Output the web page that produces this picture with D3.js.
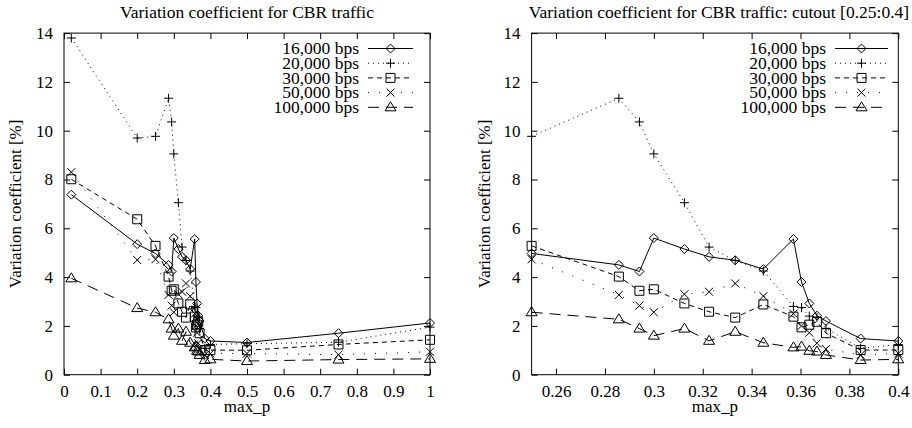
<!DOCTYPE html>
<html>
<head>
<meta charset="utf-8">
<script src="https://cdn.jsdelivr.net/npm/d3@7"></script>
<style>
body { margin: 0; background: #fff; }
svg, svg text { font-family: "Liberation Serif", "Times New Roman", Times, "DejaVu Serif", serif; }
</style>
</head>
<body>
<script>
// max_p values (x) shared by all series
var maxP = [0.02, 0.2, 0.25, 0.2857, 0.2941, 0.3, 0.3125, 0.3226, 0.3333, 0.3448,
            0.3571, 0.3604, 0.3636, 0.3667, 0.3704, 0.3846, 0.4, 0.5, 0.75, 1];

// variation coefficient [%] per bit rate
var cv16000  = [7.38, 5.35, 4.97, 4.50, 4.23, 5.60, 5.15, 4.83, 4.69, 4.33,
                5.56, 3.80, 2.92, 2.42, 2.20, 1.48, 1.38, 1.32, 1.70, 2.12];
var cv20000  = [13.8, 9.70, 9.77, 11.33, 10.36, 9.05, 7.05, 5.23, 4.68, 4.25,
                2.80, 2.75, 2.40, 2.35, 1.90, 1.08, 1.24, 1.27, 1.33, 1.95];
var cv30000  = [8.01, 6.37, 5.28, 4.02, 3.44, 3.50, 2.92, 2.58, 2.34, 2.88,
                2.38, 1.94, 2.05, 2.17, 1.70, 1.01, 1.01, 1.00, 1.24, 1.43];
var cv50000  = [8.30, 4.70, 4.73, 3.27, 2.83, 2.56, 3.30, 3.40, 3.74, 3.22,
                2.50, 2.00, 1.72, 1.29, 1.05, 0.81, 0.87, 0.87, 0.82, 0.94];
var cv100000 = [3.95, 2.73, 2.56, 2.27, 1.89, 1.60, 1.89, 1.39, 1.76, 1.31,
                1.12, 1.15, 0.98, 0.95, 0.81, 0.60, 0.63, 0.56, 0.62, 0.65];

var seriesNames = ["16,000 bps", "20,000 bps", "30,000 bps", "50,000 bps", "100,000 bps"];

// tick labels
var xTicksFull = [0, 0.1, 0.2, 0.3, 0.4, 0.5, 0.6, 0.7, 0.8, 0.9, 1];
var xTicksCut = [0.26, 0.28, 0.3, 0.32, 0.34, 0.36, 0.38, 0.4];
var yTicks = [0, 2, 4, 6, 8, 10, 12, 14];

var W = 912, H = 428;

var svg = d3.select("body").append("svg")
    .attr("width", W)
    .attr("height", H)
    .style("display", "block");

var allValues = [cv16000, cv20000, cv30000, cv50000, cv100000];
// line style / marker for each series (gnuplot-like)
var dashes = [null, "1,4", "5,4", "1,10", "11,7"];
var symbols = ["diamond", "plus", "square", "cross", "triangle"];

function marker(sel, type) {
    var p;
    if (type == "diamond") p = "M0,-4.5L4.5,0L0,4.5L-4.5,0Z";
    else if (type == "plus") p = "M-4.5,0H4.5M0,-4.5V4.5";
    else if (type == "square") p = "M-4.5,-4.5H4.5V4.5H-4.5Z";
    else if (type == "cross") p = "M-4,-4L4,4M-4,4L4,-4";
    else p = "M0,-5.5L5.5,3.5L-5.5,3.5Z";
    sel.append("path")
        .attr("d", p)
        .attr("fill", "none")
        .attr("stroke", "#000")
        .attr("stroke-width", 1);
}

function panel(opt) {
    var top = 33.1, bottom = 374.7;
    var x = d3.scaleLinear().domain(opt.domain).range([opt.left, opt.right]);
    var y = d3.scaleLinear().domain([0, 14]).range([bottom, top]);
    var g = svg.append("g");

    // title
    g.append("text")
        .attr("x", (opt.left + opt.right) / 2 + opt.titleShift)
        .attr("y", 17.5)
        .attr("text-anchor", "middle")
        .attr("font-size", 17.5)
        .text(opt.title);

    // axes, ticks pointing inwards and mirrored
    var ax = g.append("g").attr("transform", "translate(0," + bottom + ")")
        .call(d3.axisBottom(x).tickValues(opt.ticks).tickSize(-6).tickPadding(10).tickFormat(d3.format("")));
    var axT = g.append("g").attr("transform", "translate(0," + top + ")")
        .call(d3.axisTop(x).tickValues(opt.ticks).tickSize(-6).tickFormat(""));
    var ay = g.append("g").attr("transform", "translate(" + opt.left + ",0)")
        .call(d3.axisLeft(y).tickValues(yTicks).tickSize(-6).tickPadding(11));
    var ayR = g.append("g").attr("transform", "translate(" + opt.right + ",0)")
        .call(d3.axisRight(y).tickValues(yTicks).tickSize(-6).tickFormat(""));
    [ax, axT, ay, ayR].forEach(function(a) {
        a.select(".domain").remove();
        a.attr("font-family", null).attr("font-size", 17);
        a.selectAll("line").attr("stroke", "#000");
        a.selectAll("text").attr("fill", "#000");
    });

    g.append("rect")
        .attr("x", opt.left).attr("y", top)
        .attr("width", opt.right - opt.left).attr("height", bottom - top)
        .attr("fill", "none").attr("stroke", "#000").attr("stroke-width", 1);

    // axis labels
    g.append("text")
        .attr("x", (opt.left + opt.right) / 2)
        .attr("y", 412)
        .attr("text-anchor", "middle")
        .attr("font-size", 17)
        .text("max_p");
    g.append("text")
        .attr("transform", "translate(" + opt.ylabelX + "," + ((top + bottom) / 2) + ") rotate(-90)")
        .attr("text-anchor", "middle")
        .attr("dy", "0.35em")
        .attr("font-size", 17)
        .text("Variation coefficient [%]");

    var line = d3.line()
        .x(function(d) { return x(d[0]); })
        .y(function(d) { return y(d[1]); });

    allValues.forEach(function(vals, i) {
        var pts = maxP.map(function(v, j) { return [v, vals[j]]; })
            .filter(function(d) { return d[0] >= opt.domain[0] - 1e-9 && d[0] <= opt.domain[1] + 1e-9; });
        g.append("path")
            .datum(pts)
            .attr("d", line)
            .attr("fill", "none")
            .attr("stroke", "#000")
            .attr("stroke-width", 1)
            .attr("stroke-dasharray", dashes[i]);
        g.selectAll(null)
            .data(pts)
            .enter()
            .append("g")
            .attr("transform", function(d) { return "translate(" + x(d[0]) + "," + y(d[1]) + ")"; })
            .each(function() { marker(d3.select(this), symbols[i]); });

        // legend row
        var ly = 48.5 + i * 14.7;
        g.append("text")
            .attr("x", opt.legX)
            .attr("y", ly)
            .attr("dy", "0.33em")
            .attr("text-anchor", "end")
            .attr("font-size", 17.5)
            .text(seriesNames[i]);
        g.append("line")
            .attr("x1", opt.legX + 9).attr("x2", opt.legX + 9 + opt.legLen)
            .attr("y1", ly).attr("y2", ly)
            .attr("stroke", "#000")
            .attr("stroke-width", 1)
            .attr("stroke-dasharray", dashes[i]);
        g.append("g")
            .attr("transform", "translate(" + (opt.legX + 9 + opt.legLen / 2) + "," + ly + ")")
            .each(function() { marker(d3.select(this), symbols[i]); });
    });
}

panel({
    left: 64, right: 430, domain: [0, 1], ticks: xTicksFull,
    title: "Variation coefficient for CBR traffic", titleShift: 0,
    ylabelX: 15, legX: 359, legLen: 45
});
panel({
    left: 531.6, right: 898.3, domain: [0.25, 0.4], ticks: xTicksCut,
    title: "Variation coefficient for CBR traffic: cutout [0.25:0.4]", titleShift: 4,
    ylabelX: 484, legX: 826, legLen: 53
});
</script>
</body>
</html>
